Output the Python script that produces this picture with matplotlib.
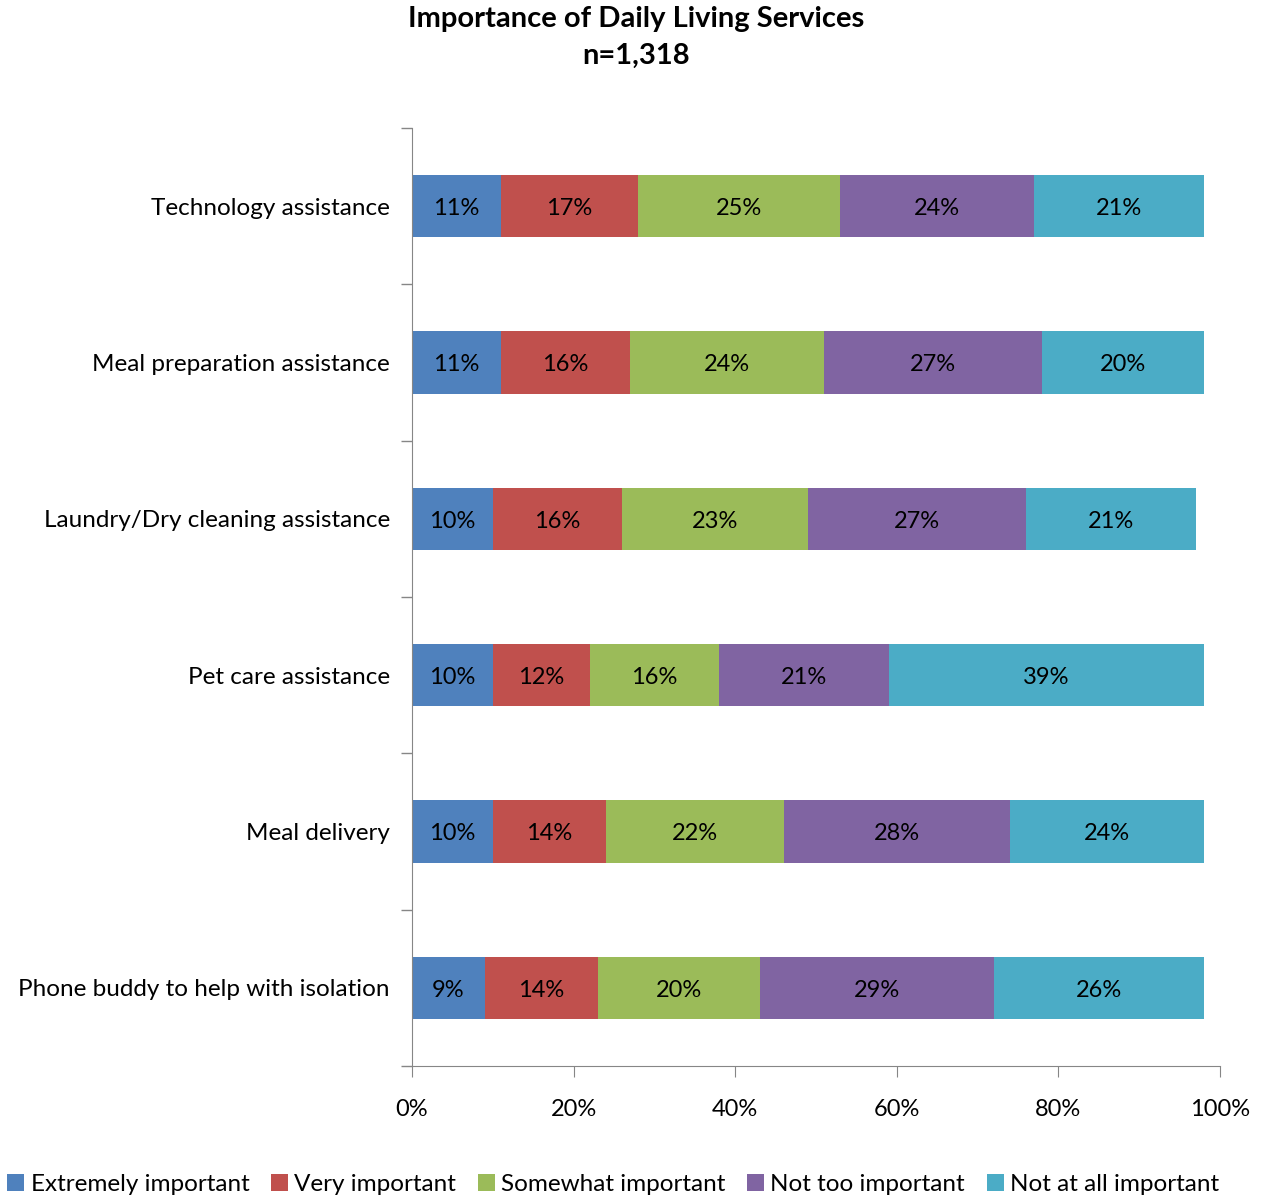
import matplotlib.pyplot as plt
import numpy as np
from matplotlib.ticker import FixedLocator, PercentFormatter

plt.rcParams['font.family'] = ['Lato', 'DejaVu Sans']

# Survey results (percent of respondents)
services = ["Technology assistance", "Meal preparation assistance",
            "Laundry/Dry cleaning assistance", "Pet care assistance",
            "Meal delivery", "Phone buddy to help with isolation"]
levels = ["Extremely important", "Very important", "Somewhat important",
          "Not too important", "Not at all important"]
extremely = [11, 11, 10, 10, 10, 9]
very = [17, 16, 16, 12, 14, 14]
somewhat = [25, 24, 23, 16, 22, 20]
not_too = [24, 27, 27, 21, 28, 29]
not_at_all = [21, 20, 21, 39, 24, 26]
colors = ['#4F81BD', '#C0504D', '#9BBB59', '#8064A2', '#4BACC6']

series = [extremely, very, somewhat, not_too, not_at_all]

fig = plt.figure(figsize=(12.62, 12), dpi=100)
ax = fig.add_axes([0.3265, 0.1117, 0.6403, 0.7817])

y = np.arange(len(services))[::-1]
left = np.zeros(len(services))
for vals, name, c in zip(series, levels, colors):
    vals = np.array(vals, dtype=float)
    ax.barh(y, vals, left=left, height=0.4, color=c, label=name)
    for yi, l, v in zip(y, left, vals):
        ax.text(l + v / 2, yi - 0.015, f"{int(v)}%", ha='center', va='center',
                fontsize=17, color='black')
    left += vals

ax.set_xlim(0, 100)
ax.set_ylim(-0.5, len(services) - 0.5)
ax.set_xticks(np.arange(0, 101, 20))
ax.xaxis.set_major_formatter(PercentFormatter(decimals=0))
ax.set_yticks(y)
ax.set_yticklabels(services)
ax.yaxis.set_minor_locator(FixedLocator(np.arange(-0.5, len(services), 1)))
ax.tick_params(axis='y', which='major', length=0, pad=16, labelsize=17.5)
ax.tick_params(axis='y', which='minor', length=8, color='#868686', width=1)
ax.tick_params(axis='x', length=8, color='#868686', labelsize=17, pad=16)

for s in ['top', 'right']:
    ax.spines[s].set_visible(False)
for s in ['left', 'bottom']:
    ax.spines[s].set_color('#868686')

fig.text(0.504, 0.995, "Importance of Daily Living Services\nn=1,318",
         ha='center', va='top', fontsize=21, fontweight='bold',
         linespacing=1.5)

fig.legend(loc='lower center', bbox_to_anchor=(0.486, -0.004), ncol=5,
           frameon=False, fontsize=17.5, handlelength=0.7, handleheight=0.7,
           handletextpad=0.25, columnspacing=0.9, borderaxespad=0)

fig.savefig("out.png", dpi=100)
